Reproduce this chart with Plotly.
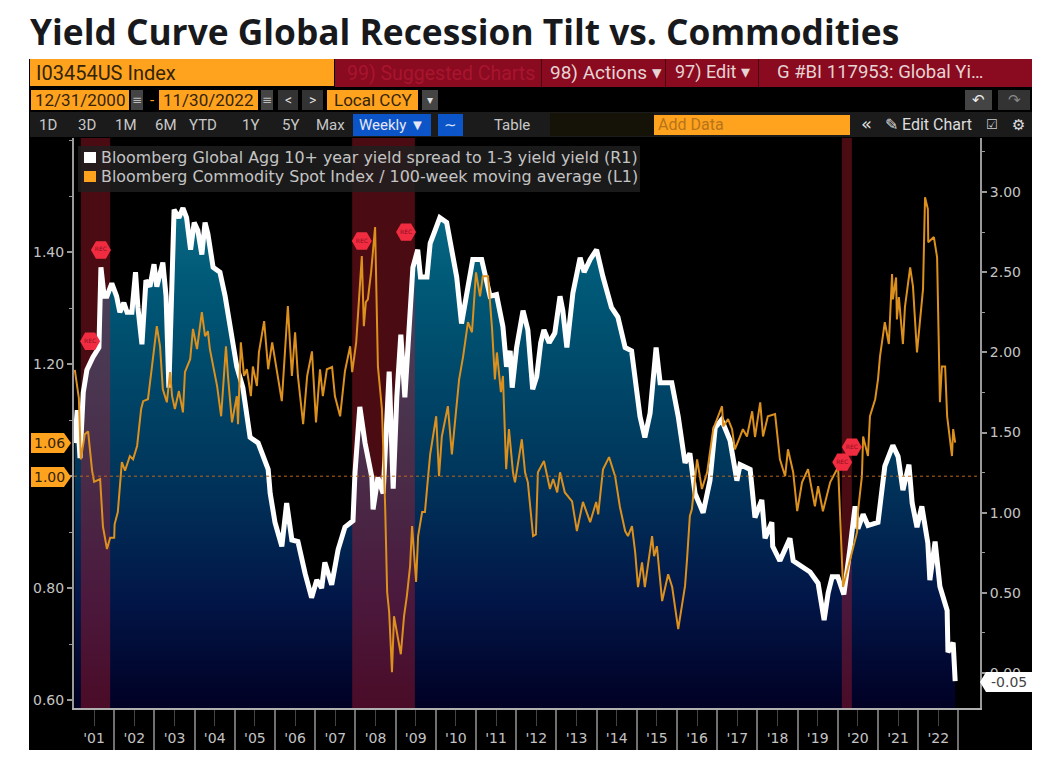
import plotly.graph_objects as go

# ---------- data ----------
spread_years = [2001.02,2001.08,2001.15,2001.23,2001.32,2001.47,2001.62,2001.67,2001.75,2001.82,2001.94,2002.06,2002.14,2002.24,2002.32,2002.44,2002.53,2002.59,2002.69,2002.79,2002.89,2002.99,2003.06,2003.21,2003.29,2003.36,2003.49,2003.61,2003.71,2003.80,2003.90,2003.99,2004.08,2004.18,2004.26,2004.33,2004.46,2004.63,2004.76,2004.88,2005.05,2005.20,2005.38,2005.58,2005.83,2005.88,2006.00,2006.17,2006.29,2006.42,2006.57,2006.75,2006.91,2007.04,2007.16,2007.24,2007.41,2007.57,2007.74,2007.94,2007.99,2008.11,2008.24,2008.41,2008.44,2008.56,2008.69,2008.84,2008.94,2009.03,2009.13,2009.23,2009.36,2009.43,2009.55,2009.62,2009.78,2009.86,2009.98,2010.10,2010.27,2010.40,2010.52,2010.64,2010.77,2010.92,2011.14,2011.35,2011.51,2011.67,2011.76,2011.85,2011.90,2012.01,2012.17,2012.29,2012.41,2012.51,2012.61,2012.69,2012.82,2012.96,2013.09,2013.16,2013.26,2013.41,2013.59,2013.69,2013.84,2014.00,2014.16,2014.37,2014.53,2014.71,2014.87,2015.08,2015.20,2015.33,2015.48,2015.58,2015.87,2016.03,2016.20,2016.32,2016.45,2016.65,2016.82,2016.95,2017.11,2017.32,2017.49,2017.57,2017.82,2017.94,2018.11,2018.19,2018.36,2018.38,2018.56,2018.81,2018.89,2019.31,2019.51,2019.66,2019.76,2019.86,2020.00,2020.15,2020.30,2020.43,2020.50,2020.63,2020.75,2021.00,2021.17,2021.37,2021.50,2021.62,2021.77,2021.85,2021.97,2022.09,2022.24,2022.29,2022.42,2022.54,2022.72,2022.74,2022.87,2022.92]
spread_values = [1.435,1.64,1.34,1.75,1.89,1.97,2.03,2.53,2.35,2.35,2.43,2.35,2.25,2.31,2.25,2.25,2.50,2.28,2.05,2.45,2.41,2.55,2.41,2.56,2.35,1.78,2.89,2.84,2.90,2.84,2.64,2.81,2.76,2.61,2.81,2.74,2.53,2.50,2.35,2.18,1.91,1.78,1.47,1.435,1.27,1.12,0.94,0.79,1.06,0.83,0.82,0.62,0.47,0.58,0.53,0.69,0.55,0.77,0.91,0.95,1.25,1.66,1.435,1.22,1.02,1.22,1.12,1.88,1.15,1.72,2.11,1.72,2.28,2.53,2.64,2.47,2.47,2.68,2.76,2.84,2.81,2.62,2.47,2.18,2.37,2.58,2.58,2.35,2.36,2.16,1.91,2.01,1.78,2.03,2.26,2.14,1.77,1.85,2.06,2.14,2.06,2.12,2.35,2.26,2.03,2.37,2.59,2.50,2.58,2.64,2.47,2.28,2.22,2.03,2.01,1.60,1.47,1.62,2.03,1.81,1.81,1.60,1.31,1.37,1.12,1.00,1.20,1.53,1.58,1.45,1.20,1.30,1.27,0.97,1.08,0.84,0.94,0.79,0.70,0.84,0.70,0.63,0.56,0.33,0.50,0.60,0.60,0.49,0.77,1.04,0.90,0.99,0.92,0.94,1.29,1.42,1.35,1.14,1.30,1.06,0.91,1.04,0.81,0.58,0.82,0.54,0.39,0.13,0.19,-0.05]

commodity_years = [2001.02,2001.12,2001.17,2001.27,2001.35,2001.45,2001.50,2001.65,2001.72,2001.82,2001.90,2002.00,2002.01,2002.09,2002.19,2002.27,2002.39,2002.47,2002.57,2002.67,2002.72,2002.84,2002.94,2003.06,2003.14,2003.21,2003.31,2003.39,2003.44,2003.51,2003.61,2003.71,2003.76,2003.89,2003.96,2004.06,2004.18,2004.26,2004.33,2004.38,2004.56,2004.66,2004.78,2004.83,2004.93,2005.05,2005.08,2005.15,2005.23,2005.30,2005.40,2005.45,2005.55,2005.60,2005.73,2005.83,2005.93,2006.05,2006.17,2006.32,2006.42,2006.50,2006.57,2006.70,2006.80,2006.92,2007.02,2007.12,2007.19,2007.29,2007.42,2007.49,2007.62,2007.74,2007.87,2007.92,2008.02,2008.16,2008.21,2008.26,2008.31,2008.39,2008.49,2008.56,2008.66,2008.74,2008.79,2008.84,2008.91,2008.96,2009.06,2009.13,2009.21,2009.28,2009.36,2009.41,2009.51,2009.56,2009.66,2009.73,2009.81,2009.86,2010.01,2010.08,2010.15,2010.30,2010.40,2010.50,2010.58,2010.68,2010.80,2010.90,2011.00,2011.10,2011.17,2011.30,2011.40,2011.47,2011.52,2011.62,2011.67,2011.75,2011.82,2011.92,2011.97,2012.05,2012.14,2012.22,2012.29,2012.42,2012.49,2012.54,2012.69,2012.84,2012.92,2013.02,2013.09,2013.21,2013.39,2013.51,2013.66,2013.84,2013.99,2014.04,2014.16,2014.31,2014.46,2014.58,2014.71,2014.78,2014.88,2014.96,2015.03,2015.13,2015.20,2015.38,2015.43,2015.50,2015.63,2015.78,2015.88,2016.03,2016.20,2016.25,2016.32,2016.37,2016.50,2016.62,2016.75,2016.90,2017.12,2017.15,2017.27,2017.37,2017.44,2017.57,2017.64,2017.74,2017.87,2017.94,2018.07,2018.14,2018.26,2018.44,2018.56,2018.69,2018.76,2018.89,2018.99,2019.11,2019.26,2019.43,2019.51,2019.63,2019.81,2019.98,2020.00,2020.13,2020.30,2020.48,2020.50,2020.60,2020.63,2020.75,2020.80,2020.93,2021.00,2021.05,2021.17,2021.27,2021.35,2021.37,2021.45,2021.47,2021.52,2021.62,2021.67,2021.80,2021.87,2021.97,2022.12,2022.17,2022.24,2022.25,2022.39,2022.47,2022.54,2022.59,2022.67,2022.72,2022.84,2022.87,2022.92]
commodity_values = [1.19,1.14,1.03,1.075,1.08,1.01,0.99,0.995,0.91,0.87,0.89,0.89,0.914,0.936,1.025,1.01,1.036,1.03,1.054,1.12,1.134,1.1375,1.196,1.268,1.232,1.155,1.132,1.186,1.143,1.12,1.152,1.114,1.186,1.209,1.263,1.227,1.293,1.25,1.259,1.227,1.161,1.107,1.232,1.179,1.096,1.143,1.093,1.239,1.179,1.191,1.143,1.196,1.161,1.221,1.277,1.191,1.239,1.186,1.134,1.304,1.179,1.257,1.179,1.093,1.179,1.223,1.096,1.191,1.143,1.191,1.195,1.143,1.107,1.1875,1.232,1.186,1.239,1.393,1.268,1.311,1.316,1.364,1.445,1.196,1.12,0.946,0.793,0.757,0.65,0.75,0.714,0.682,0.75,0.786,0.839,0.911,0.811,0.893,0.936,0.936,1.00,1.039,1.107,1.00,1.071,1.125,1.039,1.111,1.173,1.214,1.275,1.257,1.364,1.321,1.357,1.357,1.263,1.173,1.221,1.15,1.179,1.0125,1.084,1.007,0.989,1.025,1.066,1.007,0.989,0.893,0.896,1.007,1.027,0.977,0.995,0.971,1.007,0.971,0.955,0.902,0.954,0.918,0.954,0.932,1.0125,1.034,1.00,0.945,0.902,0.893,0.911,0.864,0.802,0.846,0.802,0.893,0.857,0.875,0.777,0.825,0.802,0.727,0.804,0.852,0.929,0.941,1.03,0.977,1.007,1.084,1.125,1.089,1.102,1.084,1.048,1.071,1.084,1.071,1.116,1.07,1.132,1.071,1.107,1.111,1.03,1.00,1.048,1.007,0.9375,0.989,1.0125,0.946,0.982,0.9375,0.989,1.0125,1.03,0.802,0.852,0.90,0.936,1.00,1.071,1.036,1.107,1.1375,1.173,1.214,1.275,1.236,1.361,1.316,1.355,1.28,1.32,1.236,1.302,1.373,1.339,1.221,1.334,1.498,1.477,1.418,1.427,1.391,1.132,1.196,1.196,1.107,1.036,1.084,1.06]

recession_starts = [2001.17, 2007.92, 2020.10]
recession_ends = [2001.90, 2009.48, 2020.35]
flag_years = [2001.67, 2001.40, 2008.16, 2009.26, 2020.35, 2020.11]
flag_values = [1.404, 1.241, 1.42, 1.436, 1.052, 1.025]
flag_labels = ["REC"] * 6
reference_level = 1.00

year_labels = ["'01","'02","'03","'04","'05","'06","'07","'08","'09","'10","'11","'12","'13","'14","'15","'16","'17","'18","'19","'20","'21","'22"]
year_numbers = list(range(2001, 2023))
left_ticks = [0.6, 0.8, 1.0, 1.2, 1.4]
left_labels = ["0.60", "0.80", "1.00", "1.20", "1.40"]
right_ticks = [0, 0.5, 1, 1.5, 2, 2.5, 3]
right_labels = ["0.00", "0.50", "1.00", "1.50", "2.00", "2.50", "3.00"]
spread_name = "Bloomberg Global Agg 10+ year yield spread to 1-3 yield yield (R1)"
commodity_name = "Bloomberg Commodity Spot Index / 100-week moving average (L1)"

# ---------- frame ----------
W, H = 1048, 758
L, R, T, B = 74, 980, 138, 708
X_RANGE = [2001.0, 2001 + (R - L) / 40.2]
R_RANGE = [-0.218, 3.337]
L_RANGE = [0.586, 1.604]
ORANGE, CRIMSON, PANEL = "#ffa31f", "#8a0a20", "#000000"
NARROW = "Roboto"
px = lambda x: (x - L) / (R - L)
py = lambda y: (B - y) / (B - T)

shapes, notes = [], []

def box(x0, y0, x1, y1, color, layer="below"):
    shapes.append(dict(type="rect", xref="paper", yref="paper", x0=px(x0), x1=px(x1),
                       y0=py(y1), y1=py(y0), fillcolor=color, line_width=0, layer=layer))

def poly(points, color, layer="above"):
    d = "M" + " L".join(f"{px(a):.5f},{py(b):.5f}" for a, b in points) + " Z"
    shapes.append(dict(type="path", xref="paper", yref="paper", path=d,
                       fillcolor=color, line_width=0, layer=layer))

def label(text, x, y, color="#d0d0d0", size=15, anchor="left", family=NARROW, bold=False):
    notes.append(dict(text=f"<b>{text}</b>" if bold else text, xref="paper", yref="paper", x=px(x), y=py(y),
                      xanchor=anchor, yanchor="middle", showarrow=False,
                      font=dict(family=family, size=size, color=color)))

# black panel and toolbars
box(29, 59, 1032, 750, PANEL)
box(335, 59, 1032, 87, CRIMSON)
box(30, 59, 334, 86, ORANGE)
label("I03454US Index", 34, 73, "#33240a", 20)
label("99) Suggested Charts", 345, 73, "#a8152e", 19.5)
label("98) Actions ▾", 548, 72, "#e6d3d3", 19)
label("97) Edit ▾", 673, 72, "#e6d3d3", 18)
label("G #BI 117953: Global Yi…", 775, 72, "#e6d3d3", 18.5)
for d in (541, 665, 758):
    box(d, 59, d + 1, 87, "#4a0510")

box(31, 90, 129, 110, ORANGE)
label("12/31/2000", 80, 100, "#33240a", 17, "center")
box(131, 90, 143, 110, "#444444")
label("≡", 137, 100, "#bbbbbb", 12, "center", "DejaVu Sans")
label("-", 152, 100, ORANGE, 15, "center")
box(159, 90, 258, 110, ORANGE)
label("11/30/2022", 208, 100, "#33240a", 17, "center")
box(261, 90, 273, 110, "#444444")
label("≡", 267, 100, "#bbbbbb", 12, "center", "DejaVu Sans")
box(278, 90, 298, 110, "#333333")
label("<", 288, 100, "#dddddd", 14, "center")
box(302, 90, 323, 110, "#333333")
label(">", 312, 100, "#dddddd", 14, "center")
box(327, 90, 418, 110, ORANGE)
label("Local CCY", 332, 100, "#33240a", 17)
box(422, 90, 438, 110, "#444444")
label("▾", 430, 100, "#dddddd", 12, "center", "DejaVu Sans")
box(965, 90, 992, 110, "#444444")
label("↶", 978, 100, "#eeeeee", 15, "center", "DejaVu Sans")
box(998, 90, 1030, 110, "#333333")
label("↷", 1014, 100, "#888888", 15, "center", "DejaVu Sans")

box(30, 112, 1032, 137, "#1b1b1b")
for text, cx in [("1D", 48), ("3D", 87), ("1M", 126), ("6M", 166), ("YTD", 203), ("1Y", 250), ("5Y", 290), ("Max", 330)]:
    label(text, cx, 125, "#c8c8c8", 15, "center")
box(353, 114, 431, 136, "#0b55c8")
label("Weekly ▼", 392, 125, "#e6e6f5", 15, "center")
box(438, 114, 463, 136, "#0b55c8")
label("∼", 450, 125, "#dfe6ff", 15, "center", "DejaVu Sans")
label("Table", 512, 125, "#c8c8c8", 15, "center")
box(550, 113, 654, 136, "#151208")
box(654, 115, 850, 135, ORANGE)
label("Add Data", 656, 125, "#b8741a", 16)
label("«", 866, 124, "#dddddd", 18, "center", "DejaVu Sans")
label("✎ Edit Chart", 928, 125, "#dddddd", 16, "center", NARROW)
label("☑", 992, 125, "#cccccc", 13, "center", "DejaVu Sans")
label("⚙", 1018, 125, "#e0e0e0", 15, "center", "DejaVu Sans")

# legend block over the plot
box(78, 146, 640, 192, "rgba(32,32,32,0.82)", "above")
box(84, 152, 96, 163, "#ffffff", "above")
box(84, 171, 96, 182, ORANGE, "above")
label(spread_name, 99, 157, "#c4c4c4", 15.9, "left", "DejaVu Sans")
label(commodity_name, 99, 176, "#c4c4c4", 15.9, "left", "DejaVu Sans")

# value tags
for top, text, mid in [(433, "1.06", 443), (467, "1.00", 477)]:
    poly([(31, top), (64, top), (71, mid), (64, top + 20), (31, top + 20)], ORANGE)
    label(text, 49, mid, "#33240a", 14, "center", "DejaVu Sans")
poly([(980, 682), (986, 672), (1032, 672), (1032, 692), (986, 692)], "#ffffff")
label("-0.05", 1009, 682, "#444444", 14, "center", "DejaVu Sans")

# dotted reference line
shapes.append(dict(type="line", xref="paper", yref="y2", x0=0, x1=1, y0=reference_level, y1=reference_level,
                   line=dict(color="#b8681c", width=1, dash="dot"), layer="above"))

# ---------- traces ----------
fig = go.Figure()
fig.add_trace(go.Scatter(x=spread_years, y=[R_RANGE[0]] * len(spread_years), mode="lines",
                         line=dict(width=0), yaxis="y", showlegend=False, hoverinfo="skip"))
fig.add_trace(go.Scatter(x=spread_years, y=spread_values, mode="none", fill="tonexty", yaxis="y",
                         fillgradient=dict(type="vertical", colorscale=[
                             [0, "#010024"], [0.22, "#021648"], [0.48, "#00375c"], [0.86, "#005a78"], [1, "#0a6a85"]]),
                         showlegend=False, hoverinfo="skip"))
for s, e in zip(recession_starts, recession_ends):
    fig.add_trace(go.Scatter(x=[s, s, e, e], y=[R_RANGE[0], R_RANGE[1], R_RANGE[1], R_RANGE[0]], mode="none",
                             fill="toself", fillcolor="rgba(185,30,45,0.40)", yaxis="y",
                             showlegend=False, hoverinfo="skip"))
fig.add_trace(go.Scatter(x=spread_years, y=spread_values, mode="lines", name=spread_name, yaxis="y",
                         line=dict(color="#ffffff", width=5), showlegend=False))
fig.add_trace(go.Scatter(x=commodity_years, y=commodity_values, mode="lines", name=commodity_name, yaxis="y2",
                         line=dict(color="#dc901e", width=2), showlegend=False))
fig.add_trace(go.Scatter(x=flag_years, y=flag_values, mode="markers+text", text=flag_labels, yaxis="y2",
                         marker=dict(symbol="hexagon2", size=20, color="#f22c40"),
                         textfont=dict(size=6, color="#8a1020", family="DejaVu Sans"),
                         textposition="middle center", showlegend=False, hoverinfo="skip"))

AX = "#9a9a9a"
TICKS = dict(family="DejaVu Sans", size=14, color="#c4c4c4")
fig.update_layout(
    width=W, height=H, autosize=False,
    margin=dict(l=L, r=W - R, t=T, b=H - B, pad=0, autoexpand=False),
    paper_bgcolor="#ffffff", plot_bgcolor="rgba(0,0,0,0)",
    title=dict(text="<b>Yield Curve Global Recession Tilt vs. Commodities</b>",
               x=30 / W, xanchor="left", y=1 - 33 / H, yanchor="middle",
               font=dict(family="Open Sans", size=35.3, color="#17191c")),
    xaxis=dict(range=X_RANGE, tickmode="array", tickvals=[y + 0.5 for y in year_numbers], ticktext=year_labels,
               ticks="outside", ticklen=16, tickwidth=0, tickfont=TICKS, showgrid=False, zeroline=False,
               showline=True, linecolor="#b0b0b0", linewidth=2,
               minor=dict(tickmode="array", tickvals=[y + 1 for y in year_numbers], ticks="outside",
                          ticklen=40, tickwidth=2, tickcolor="#707070", showgrid=False)),
    yaxis=dict(range=R_RANGE, side="right", tickmode="array", tickvals=right_ticks, ticktext=right_labels,
               ticks="outside", ticklen=5, tickwidth=2, tickcolor=AX, tickfont=TICKS, showgrid=False, zeroline=False,
               showline=True, linecolor=AX, linewidth=2,
               minor=dict(tick0=0, dtick=0.25, ticks="outside", ticklen=3, tickwidth=1, tickcolor=AX, showgrid=False)),
    yaxis2=dict(range=L_RANGE, side="left", overlaying="y", tickmode="array", tickvals=left_ticks, ticktext=left_labels,
                ticks="outside", ticklen=5, tickwidth=2, tickcolor=AX, tickfont=TICKS, showgrid=False, zeroline=False,
                showline=True, linecolor=AX, linewidth=2,
                minor=dict(tick0=0.6, dtick=0.1, ticks="outside", ticklen=3, tickwidth=1, tickcolor=AX, showgrid=False)),
    shapes=shapes, annotations=notes, showlegend=False,
)
fig.write_html("out.html", config={"displayModeBar": False},
               post_script="document.body.style.margin='0';document.body.style.overflow='hidden';")
